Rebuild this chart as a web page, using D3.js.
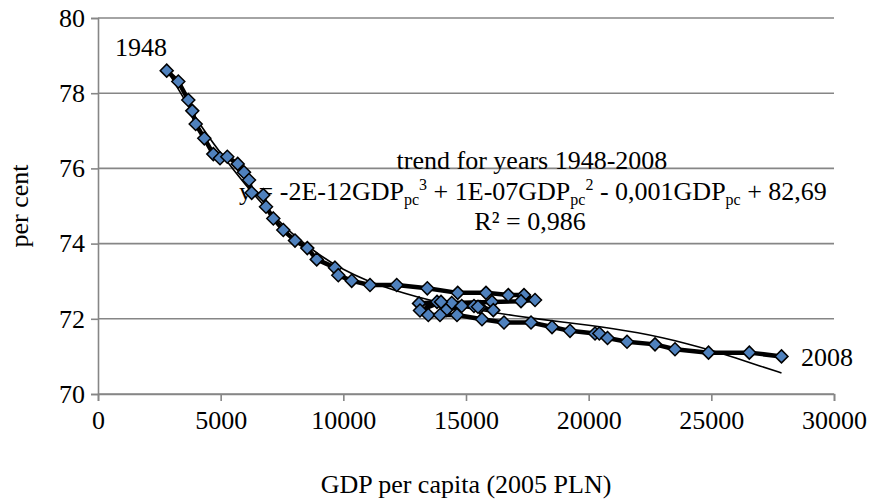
<!DOCTYPE html>
<html>
<head>
<meta charset="utf-8">
<script src="https://cdn.jsdelivr.net/npm/d3@7"></script>
<style>
  body { margin: 0; background: #fff; }
  svg text { font-family: "Liberation Serif", "DejaVu Serif", serif; }
</style>
</head>
<body>
<svg id="chart" width="892" height="499"></svg>
<script>
// GDP per capita (2005 PLN), years 1948-2008
const gdp = [2800, 3273, 3681, 3844, 3982, 4333, 4700, 4973, 5270, 5694,
  5951, 6155, 6265, 6738, 6848, 7146, 7553, 8030, 8531, 8915,
  9660, 9795, 10341, 11087, 12175, 13423, 14662, 15815, 16724, 17364,
  17813, 17242, 16060, 14417, 13085, 13819, 14185, 14825, 15326, 15571,
  16113, 15489, 13981, 13125, 13464, 13940, 14633, 15652, 16549, 17650,
  18506, 19240, 20259, 20434, 20768, 21563, 22704, 23519, 24885, 26548,
  27860];
// per cent
const share = [78.60, 78.31, 77.82, 77.53, 77.18, 76.80, 76.38, 76.27, 76.31, 76.12,
  75.90, 75.69, 75.35, 75.29, 74.98, 74.67, 74.36, 74.08, 73.88, 73.58,
  73.36, 73.16, 73.01, 72.90, 72.90, 72.81, 72.69, 72.69, 72.63, 72.63,
  72.50, 72.47, 72.45, 72.42, 72.41, 72.45, 72.23, 72.34, 72.34, 72.31,
  72.23, 72.32, 72.45, 72.22, 72.10, 72.10, 72.10, 71.99, 71.90, 71.90,
  71.78, 71.68, 71.61, 71.61, 71.49, 71.39, 71.32, 71.19, 71.10, 71.10,
  71.00];
// polynomial trend line
const trendGdp = [2800, 4000, 5000, 6000, 7000, 8000, 9000, 10000, 11000, 12000, 13000,
  14000, 15000, 16000, 17000, 18000, 19000, 20000, 21000, 22000, 23000, 24000,
  25000, 26000, 27000, 27860];
const trendShare = [78.64, 77.29, 76.40, 75.56, 74.84, 74.20, 73.70, 73.30, 73.00, 72.77, 72.58,
  72.42, 72.29, 72.18, 72.08, 71.99, 71.91, 71.83, 71.74, 71.63, 71.50, 71.34,
  71.16, 70.96, 70.74, 70.56];
const xTicks = [0, 5000, 10000, 15000, 20000, 25000, 30000];
const yTicks = [70, 72, 74, 76, 78, 80];

const svg = d3.select('#chart');
const x = d3.scaleLinear().domain([0, 30000]).range([98, 834]);
const y = d3.scaleLinear().domain([70, 80]).range([394, 18]);
const gridColor = '#868686';

// horizontal gridlines
svg.append('g').selectAll('line').data(yTicks).enter().append('line')
    .attr('x1', x(0)).attr('x2', x(30000))
    .attr('y1', d => y(d)).attr('y2', d => y(d))
    .attr('stroke', gridColor).attr('stroke-width', 1.6);

let yAxis = svg.append('g').attr('transform', `translate(${x(0)},0)`)
    .call(d3.axisLeft(y).tickValues(yTicks).tickSize(7).tickPadding(6).tickFormat(d3.format('d')));
let xAxis = svg.append('g').attr('transform', `translate(0,${y(70)})`)
    .call(d3.axisBottom(x).tickValues(xTicks).tickSize(7).tickPadding(10).tickFormat(d3.format('d')));
[yAxis, xAxis].forEach(a => {
  a.attr('font-family', null).attr('font-size', 26);
  a.select('.domain').attr('stroke', gridColor).attr('stroke-width', 1.6);
  a.selectAll('.tick line').attr('stroke', gridColor).attr('stroke-width', 1.6);
  a.selectAll('text').attr('fill', '#000');
});

function addText(x0, y0, str) {
  return svg.append('text').attr('x', x0).attr('y', y0)
      .attr('font-size', 26).attr('fill', '#000').text(str);
}

// axis titles
addText(466, 493, 'GDP per capita (2005 PLN)').attr('text-anchor', 'middle');
addText(0, 0, 'per cent').attr('text-anchor', 'middle').attr('transform', 'translate(28,206) rotate(-90)');

// trend label
addText(532, 169, 'trend for years 1948-2008').attr('text-anchor', 'middle');
let eq = addText(533, 200, null).attr('text-anchor', 'middle');
eq.append('tspan').text('y = -2E-12GDP');
eq.append('tspan').attr('dy', 5).attr('font-size', 16).text('pc');
eq.append('tspan').attr('dy', -15).attr('font-size', 16).text('3');
eq.append('tspan').attr('dy', 10).text(' + 1E-07GDP');
eq.append('tspan').attr('dy', 5).attr('font-size', 16).text('pc');
eq.append('tspan').attr('dy', -15).attr('font-size', 16).text('2');
eq.append('tspan').attr('dy', 10).text(' - 0,001GDP');
eq.append('tspan').attr('dy', 5).attr('font-size', 16).text('pc');
eq.append('tspan').attr('dy', -5).text(' + 82,69');
addText(530, 230, 'R² = 0,986').attr('text-anchor', 'middle');

// year labels
addText(115, 56, '1948');
addText(801, 366, '2008');

// data line
const pts = gdp.map((g, i) => [g, share[i]]);
svg.append('path').datum(pts)
    .attr('d', d3.line().x(d => x(d[0])).y(d => y(d[1])))
    .attr('fill', 'none').attr('stroke', '#000').attr('stroke-width', 4.5).attr('stroke-linejoin', 'round');

// trend line
const tpts = trendGdp.map((g, i) => [g, trendShare[i]]);
svg.append('path').datum(tpts)
    .attr('d', d3.line().x(d => x(d[0])).y(d => y(d[1])).curve(d3.curveBasis))
    .attr('fill', 'none').attr('stroke', '#000').attr('stroke-width', 1.6);

// diamond markers
svg.append('g').selectAll('path').data(pts).enter().append('path')
    .attr('transform', d => `translate(${x(d[0])},${y(d[1])})`)
    .attr('d', 'M0,-6.5L6.5,0L0,6.5L-6.5,0Z')
    .attr('fill', '#4F81BD').attr('stroke', '#000').attr('stroke-width', 1.5);
</script>
</body>
</html>
